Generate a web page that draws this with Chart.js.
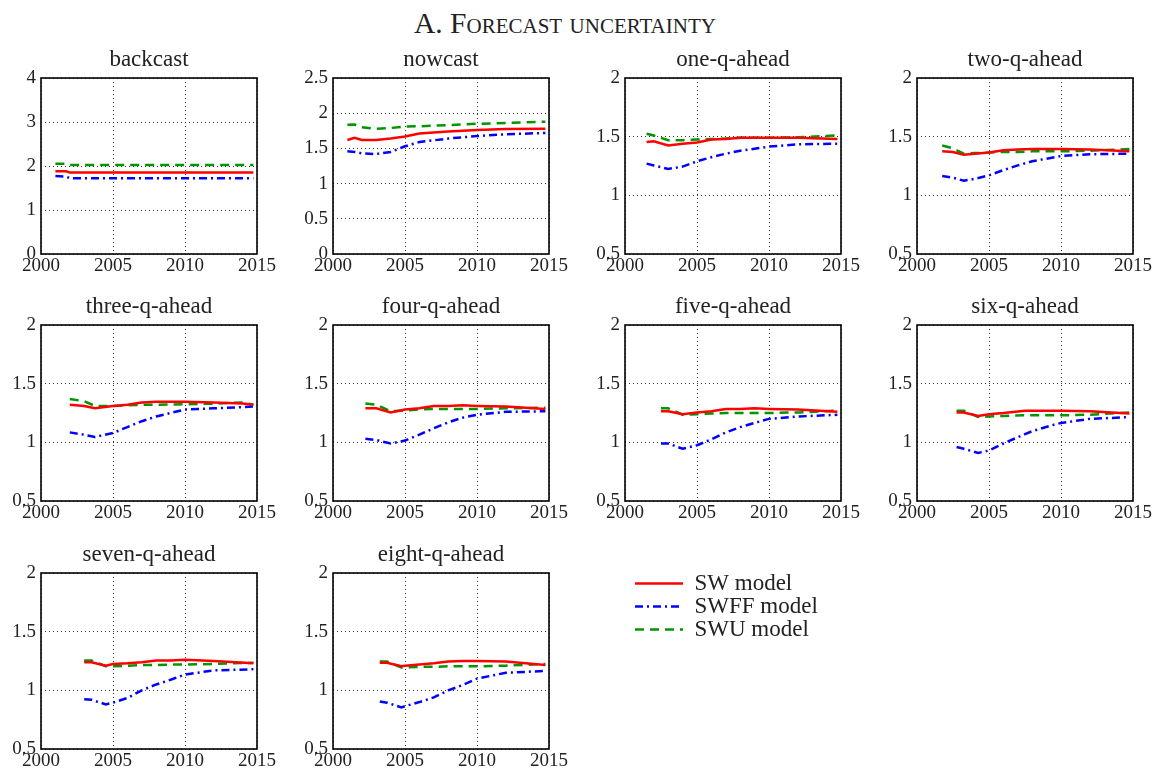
<!DOCTYPE html>
<html>
<head>
<meta charset="utf-8">
<script src="https://cdn.jsdelivr.net/npm/chart.js@4.4.1/dist/chart.umd.min.js"></script>
<style>
  html, body { margin: 0; padding: 0; background: #ffffff; width: 1158px; height: 771px; overflow: hidden; }
  #page { position: relative; width: 1158px; height: 771px; overflow: hidden; }
  #mainTitle { position: absolute; left: 0; width: 1130px; top: 9px; text-align: center;
    font-family: 'Liberation Serif', serif; font-size: 29.5px; line-height: 29px; font-variant: small-caps; color: #222; }
  canvas { position: absolute; }
</style>
</head>
<body>
<div id="page">
  <div id="mainTitle">A. Forecast uncertainty</div>
</div>
<script>
// ---------------- DATA ----------------
const seriesNames = ['SW model', 'SWFF model', 'SWU model'];
const panelTitles = ['backcast', 'nowcast', 'one-q-ahead', 'two-q-ahead', 'three-q-ahead',
  'four-q-ahead', 'five-q-ahead', 'six-q-ahead', 'seven-q-ahead', 'eight-q-ahead'];
const xTicks = [2000, 2005, 2010, 2015];
const backcastYTicks = [0, 1, 2, 3, 4];
const nowcastYTicks = [0, 0.5, 1, 1.5, 2, 2.5];
const aheadYTicks = [0.5, 1, 1.5, 2];

const backcastX    = [2001, 2001.75, 2002, 2005, 2010, 2014.75];
const backcastSW   = [1.88, 1.88, 1.85, 1.85, 1.85, 1.85];
const backcastSWFF = [1.77, 1.76, 1.72, 1.72, 1.72, 1.72];
const backcastSWU  = [2.05, 2.05, 2.02, 2.02, 2.02, 2.02];

const nowcastX    = [2001, 2001.5, 2002, 2003, 2004, 2005, 2006, 2008, 2010, 2012, 2014.75];
const nowcastSW   = [1.62, 1.65, 1.62, 1.62, 1.64, 1.67, 1.71, 1.74, 1.76, 1.775, 1.78];
const nowcastSWFF = [1.46, 1.45, 1.43, 1.42, 1.45, 1.53, 1.59, 1.64, 1.675, 1.70, 1.72];
const nowcastSWU  = [1.835, 1.84, 1.80, 1.78, 1.79, 1.81, 1.815, 1.83, 1.85, 1.86, 1.88];

const oneQX    = [2001.5, 2002, 2003, 2004, 2005, 2006, 2007, 2008, 2010, 2012, 2014.75];
const oneQSW   = [1.455, 1.46, 1.425, 1.44, 1.45, 1.475, 1.48, 1.49, 1.49, 1.49, 1.48];
const oneQSWFF = [1.27, 1.255, 1.225, 1.245, 1.29, 1.325, 1.355, 1.38, 1.415, 1.435, 1.44];
const oneQSWU  = [1.525, 1.51, 1.47, 1.47, 1.475, 1.48, 1.485, 1.49, 1.49, 1.495, 1.51];

const twoQX    = [2001.75, 2002.5, 2003.25, 2004, 2005, 2006, 2007, 2008, 2010, 2012, 2014.75];
const twoQSW   = [1.375, 1.37, 1.345, 1.355, 1.365, 1.385, 1.39, 1.395, 1.395, 1.39, 1.375];
const twoQSWFF = [1.165, 1.15, 1.125, 1.14, 1.17, 1.215, 1.255, 1.29, 1.335, 1.35, 1.355];
const twoQSWU  = [1.425, 1.40, 1.355, 1.36, 1.365, 1.37, 1.37, 1.375, 1.375, 1.38, 1.395];

const threeQX    = [2002, 2003, 2003.75, 2005, 2006, 2007, 2008, 2010, 2012, 2014, 2014.75];
const threeQSW   = [1.32, 1.31, 1.29, 1.31, 1.32, 1.34, 1.345, 1.345, 1.34, 1.33, 1.32];
const threeQSWFF = [1.085, 1.065, 1.045, 1.08, 1.13, 1.18, 1.22, 1.28, 1.29, 1.30, 1.305];
const threeQSWU  = [1.37, 1.35, 1.31, 1.31, 1.315, 1.32, 1.32, 1.325, 1.33, 1.34, 1.32];

const fourQX    = [2002.25, 2003, 2004, 2005, 2006, 2007, 2008, 2009, 2010, 2012, 2014.75];
const fourQSW   = [1.29, 1.29, 1.255, 1.28, 1.29, 1.31, 1.31, 1.315, 1.31, 1.305, 1.285];
const fourQSWFF = [1.03, 1.02, 0.99, 1.015, 1.065, 1.12, 1.17, 1.21, 1.235, 1.26, 1.265];
const fourQSWU  = [1.33, 1.32, 1.265, 1.27, 1.28, 1.285, 1.285, 1.285, 1.285, 1.29, 1.295];

const fiveQX    = [2002.5, 2003, 2004, 2005, 2006, 2007, 2008, 2009, 2010, 2012, 2014.75];
const fiveQSW   = [1.265, 1.265, 1.24, 1.255, 1.265, 1.285, 1.285, 1.29, 1.285, 1.28, 1.26];
const fiveQSWFF = [0.99, 0.99, 0.945, 0.975, 1.025, 1.085, 1.13, 1.165, 1.20, 1.22, 1.235];
const fiveQSWU  = [1.29, 1.29, 1.235, 1.24, 1.245, 1.25, 1.25, 1.25, 1.25, 1.255, 1.27];

const sixQX    = [2002.75, 2003.25, 2004.25, 2005, 2006, 2007.5, 2008, 2009.5, 2010, 2012, 2014.75];
const sixQSW   = [1.255, 1.255, 1.225, 1.24, 1.25, 1.27, 1.27, 1.27, 1.27, 1.265, 1.245];
const sixQSWFF = [0.96, 0.945, 0.91, 0.93, 0.99, 1.07, 1.095, 1.15, 1.165, 1.20, 1.215];
const sixQSWU  = [1.27, 1.27, 1.215, 1.22, 1.225, 1.23, 1.23, 1.23, 1.23, 1.235, 1.255];

const sevenQX    = [2003, 2003.5, 2004.5, 2005, 2006, 2007, 2008, 2009, 2010, 2012, 2014.75];
const sevenQSW   = [1.24, 1.24, 1.21, 1.225, 1.23, 1.24, 1.255, 1.255, 1.26, 1.25, 1.23];
const sevenQSWFF = [0.925, 0.92, 0.88, 0.895, 0.935, 1.0, 1.05, 1.09, 1.135, 1.17, 1.18];
const sevenQSWU  = [1.255, 1.255, 1.205, 1.205, 1.21, 1.215, 1.215, 1.22, 1.22, 1.225, 1.235];

const eightQX    = [2003.25, 2003.75, 2004.75, 2005, 2006, 2007, 2008, 2009, 2010, 2012, 2014.75];
const eightQSW   = [1.235, 1.235, 1.205, 1.21, 1.22, 1.23, 1.245, 1.25, 1.25, 1.245, 1.215];
const eightQSWFF = [0.905, 0.895, 0.855, 0.865, 0.90, 0.94, 1.0, 1.045, 1.10, 1.15, 1.165];
const eightQSWU  = [1.245, 1.245, 1.195, 1.195, 1.20, 1.20, 1.205, 1.205, 1.205, 1.21, 1.225];

// ---------------- STYLE / LAYOUT ----------------
const FONT = "'Liberation Serif', serif";
const TXT = '#222222';
const seriesStyles = [
  { color: '#ff0000', dash: [] },
  { color: '#0000ff', dash: [8, 4, 2, 4] },
  { color: '#009600', dash: [9, 6] }
];
const panelData = [
  [backcastX, backcastSW, backcastSWFF, backcastSWU, backcastYTicks],
  [nowcastX, nowcastSW, nowcastSWFF, nowcastSWU, nowcastYTicks],
  [oneQX, oneQSW, oneQSWFF, oneQSWU, aheadYTicks],
  [twoQX, twoQSW, twoQSWFF, twoQSWU, aheadYTicks],
  [threeQX, threeQSW, threeQSWFF, threeQSWU, aheadYTicks],
  [fourQX, fourQSW, fourQSWFF, fourQSWU, aheadYTicks],
  [fiveQX, fiveQSW, fiveQSWFF, fiveQSWU, aheadYTicks],
  [sixQX, sixQSW, sixQSWFF, sixQSWU, aheadYTicks],
  [sevenQX, sevenQSW, sevenQSWFF, sevenQSWU, aheadYTicks],
  [eightQX, eightQSW, eightQSWFF, eightQSWU, aheadYTicks]
];
const colLefts = [0, 292, 584, 876];
const rowTops = [34, 281, 529];
const Y_W = 41, X_H = 24, TITLE_H = 44, PLOT_W = 216, PLOT_H = 176;
const TITLE_SIZE = 23, TITLE_PT = 12.5;

const boxPlugin = {
  id: 'box',
  afterDraw(chart) {
    const a = chart.chartArea;
    if (!a) return;
    const ctx = chart.ctx;
    ctx.save();
    ctx.strokeStyle = '#000';
    ctx.lineWidth = 1.6;
    ctx.setLineDash([]);
    ctx.strokeRect(a.left, a.top, a.right - a.left, a.bottom - a.top);
    ctx.restore();
  }
};

const page = document.getElementById('page');

panelData.forEach((pd, i) => {
  const [xs, sw, swff, swu, yTicks] = pd;
  const canvas = document.createElement('canvas');
  const W = Y_W + PLOT_W + Y_W, H = TITLE_H + PLOT_H + X_H;
  canvas.width = W; canvas.height = H;
  canvas.style.width = W + 'px'; canvas.style.height = H + 'px';
  canvas.style.left = colLefts[i % 4] + 'px';
  canvas.style.top = rowTops[Math.floor(i / 4)] + 'px';
  page.appendChild(canvas);

  const ys = [sw, swff, swu];
  const datasets = ys.map((arr, k) => ({
    label: seriesNames[k],
    data: xs.map((x, j) => ({ x: x, y: arr[j] })),
    borderColor: seriesStyles[k].color,
    backgroundColor: seriesStyles[k].color,
    borderDash: seriesStyles[k].dash,
    borderWidth: 2.5,
    pointRadius: 0,
    tension: 0,
    fill: false
  }));

  new Chart(canvas, {
    type: 'line',
    data: { datasets },
    plugins: [boxPlugin],
    options: {
      responsive: false,
      animation: false,
      devicePixelRatio: 1,
      layout: { padding: 0 },
      plugins: {
        legend: { display: false },
        tooltip: { enabled: false },
        title: {
          display: true, text: panelTitles[i], color: TXT,
          font: { family: FONT, size: TITLE_SIZE, weight: 'normal', lineHeight: 1.2 },
          padding: { top: TITLE_PT, bottom: TITLE_H - TITLE_PT - TITLE_SIZE * 1.2 }
        }
      },
      scales: {
        x: {
          type: 'linear', min: xTicks[0], max: xTicks[xTicks.length - 1],
          afterBuildTicks: (s) => { s.ticks = xTicks.map(v => ({ value: v })); },
          afterFit: (s) => { s.height = X_H; s.paddingLeft = 0; s.paddingRight = 0; },
          ticks: { color: TXT, font: { family: FONT, size: 19 }, padding: 1, maxRotation: 0, autoSkip: false,
            callback: (v) => String(v) },
          grid: { color: '#333', lineWidth: 1, drawTicks: false },
          border: { display: false, dash: [1, 3] }
        },
        y: {
          type: 'linear', position: 'left', min: yTicks[0], max: yTicks[yTicks.length - 1],
          afterBuildTicks: (s) => { s.ticks = yTicks.map(v => ({ value: v })); },
          afterFit: (s) => { s.width = Y_W; s.paddingTop = 0; s.paddingBottom = 0; },
          ticks: { color: TXT, font: { family: FONT, size: 19 }, padding: 5, autoSkip: false,
            callback: (v) => String(v) },
          grid: { color: '#333', lineWidth: 1, drawTicks: false },
          border: { display: false, dash: [1, 3] }
        },
        yRight: {
          type: 'linear', position: 'right', min: yTicks[0], max: yTicks[yTicks.length - 1],
          afterFit: (s) => { s.width = Y_W; s.paddingTop = 0; s.paddingBottom = 0; },
          ticks: { display: false },
          grid: { display: false, drawTicks: false },
          border: { display: false }
        }
      }
    }
  });
});

// ---------------- LEGEND ----------------
(function () {
  const canvas = document.createElement('canvas');
  const W = 240, H = 180;
  canvas.width = W; canvas.height = H;
  canvas.style.width = W + 'px'; canvas.style.height = H + 'px';
  canvas.style.left = '635px';
  canvas.style.top = '571.5px';
  page.appendChild(canvas);
  new Chart(canvas, {
    type: 'line',
    data: {
      datasets: seriesNames.map((n, k) => ({
        label: n, data: [],
        borderColor: seriesStyles[k].color,
        backgroundColor: seriesStyles[k].color,
        borderDash: seriesStyles[k].dash,
        borderWidth: 2.5,
        pointStyle: 'line'
      }))
    },
    options: {
      responsive: false, animation: false, devicePixelRatio: 1,
      layout: { padding: 0 },
      plugins: {
        tooltip: { enabled: false },
        legend: {
          display: true, position: 'top', align: 'start',
          labels: {
            usePointStyle: true, pointStyleWidth: 48, color: TXT, padding: 0,
            font: { family: FONT, size: 23 },
            generateLabels: (chart) => {
              const items = Chart.defaults.plugins.legend.labels.generateLabels(chart);
              return items.map((it) => {
                const ds = chart.data.datasets[it.datasetIndex];
                it.lineDash = ds.borderDash;
                it.strokeStyle = ds.borderColor;
                it.fillStyle = ds.borderColor;
                it.lineWidth = ds.borderWidth;
                it.pointStyle = 'line';
                return it;
              });
            }
          }
        }
      },
      scales: { x: { display: false }, y: { display: false } }
    }
  });
})();
</script>
</body>
</html>
